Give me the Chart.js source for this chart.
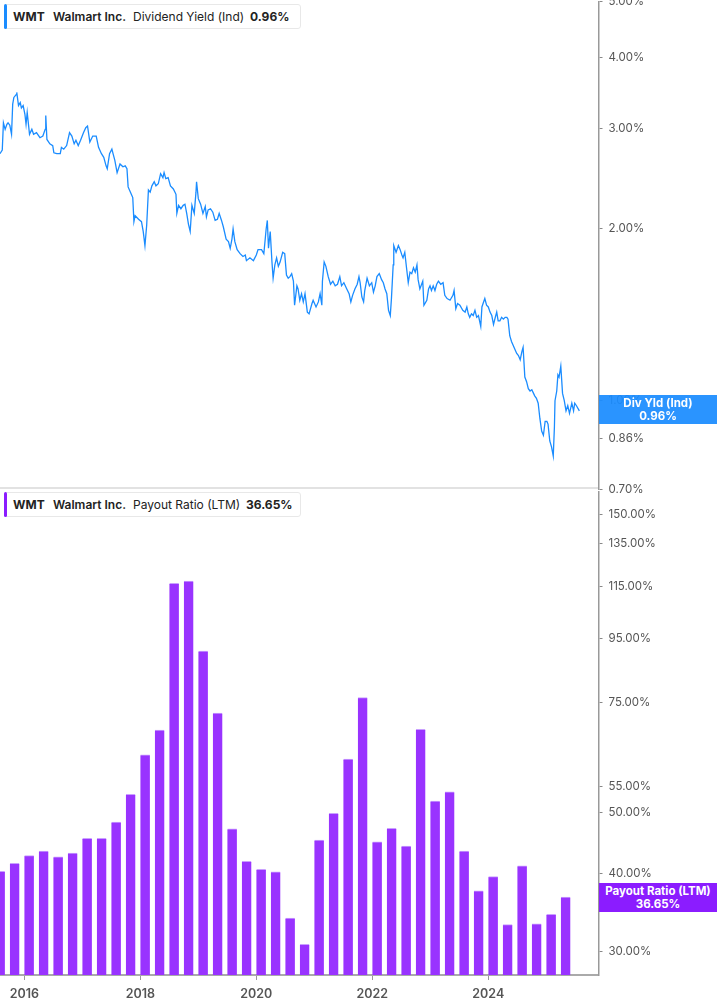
<!DOCTYPE html>
<html>
<head>
<meta charset="utf-8">
<script src="https://cdn.jsdelivr.net/npm/chart.js@4.4.1/dist/chart.umd.min.js"></script>
<style>
  body { margin: 0; width: 717px; height: 1005px; position: relative; overflow: hidden; background: #fff; font-family: Inter, "Noto Sans", sans-serif; }
  .wrap { position: absolute; left: 0; width: 717px; }
  #topWrap { top: -11px; height: 513px; }
  #botWrap { top: 479px; height: 526px; }
  .sep { position: absolute; left: 0; top: 487px; width: 598px; height: 2px; background: #e2e2e2; }
  .legend { position: absolute; left: 4px; width: 297px; height: 25px; background: #fff; border: 1px solid #e8e8e8; border-radius: 3px; box-sizing: border-box; z-index: 5; }
  .legend .bar { position: absolute; left: -1px; top: -1px; width: 3px; height: 25px; border-radius: 2px; }
  .legend span { position: absolute; top: 4px; font-size: 12px; line-height: 16px; color: #222; white-space: nowrap; }
  .valbox { position: absolute; left: 599px; width: 118px; height: 29px; color: #fff; font-weight: 700; font-size: 11.5px; line-height: 13px; text-align: center; z-index: 5; padding-top: 2px; box-sizing: border-box; }
</style>
</head>
<body>
<div class="wrap" id="topWrap"><canvas id="yieldChart"></canvas></div>
<div class="wrap" id="botWrap"><canvas id="payoutChart"></canvas></div>
<div class="sep"></div>

<div class="legend" style="top:4px">
  <div class="bar" style="background:#1a8cff"></div>
  <span style="left:8px;font-weight:700">WMT</span>
  <span style="left:48px;font-weight:600">Walmart Inc.</span>
  <span style="left:128px">Dividend Yield (Ind)</span>
  <span style="left:245px;font-weight:700">0.96%</span>
</div>
<div class="legend" style="top:492px">
  <div class="bar" style="background:#8b1cff"></div>
  <span style="left:8px;font-weight:700">WMT</span>
  <span style="left:48px;font-weight:600">Walmart Inc.</span>
  <span style="left:128px">Payout Ratio (LTM)</span>
  <span style="left:241px;font-weight:700">36.65%</span>
</div>

<div class="valbox" style="top:395px;background:rgba(26,140,255,0.93)">Div Yld (Ind)<br>0.96%</div>
<div class="valbox" style="top:883px;background:#8b1cff">Payout Ratio (LTM)<br>36.65%</div>

<script>
// dividend yield (%), dates as decimal years
const yieldDates = [
  2015.58, 2015.62, 2015.64, 2015.67, 2015.70, 2015.72, 2015.75, 2015.78, 2015.80, 2015.82,
  2015.86, 2015.87, 2015.90, 2015.93, 2015.95, 2015.98, 2016.01, 2016.03, 2016.05, 2016.09,
  2016.13, 2016.16, 2016.21, 2016.27, 2016.32, 2016.36, 2016.37, 2016.39, 2016.44, 2016.49,
  2016.51, 2016.56, 2016.62, 2016.64, 2016.68, 2016.73, 2016.78, 2016.82, 2016.86, 2016.89,
  2016.93, 2016.97, 2017.02, 2017.06, 2017.09, 2017.13, 2017.18, 2017.24, 2017.28, 2017.33,
  2017.37, 2017.41, 2017.43, 2017.47, 2017.51, 2017.53, 2017.56, 2017.60, 2017.65, 2017.70,
  2017.74, 2017.77, 2017.79, 2017.83, 2017.87, 2017.89, 2017.91, 2017.97, 2018.02, 2018.05,
  2018.08, 2018.11, 2018.14, 2018.17, 2018.20, 2018.24, 2018.27, 2018.31, 2018.35, 2018.39,
  2018.41, 2018.44, 2018.48, 2018.52, 2018.57, 2018.615, 2018.63, 2018.66, 2018.70, 2018.74,
  2018.77, 2018.80, 2018.83, 2018.86, 2018.89, 2018.93, 2018.96, 2018.97, 2019.00, 2019.04,
  2019.08, 2019.12, 2019.14, 2019.17, 2019.21, 2019.25, 2019.29, 2019.33, 2019.36, 2019.40,
  2019.43, 2019.48, 2019.52, 2019.55, 2019.58, 2019.60, 2019.63, 2019.67, 2019.72, 2019.77,
  2019.81, 2019.83, 2019.89, 2019.95, 2020.00, 2020.03, 2020.09, 2020.13, 2020.17, 2020.19,
  2020.21, 2020.24, 2020.27, 2020.29, 2020.32, 2020.35, 2020.38, 2020.41, 2020.455, 2020.49,
  2020.52, 2020.55, 2020.58, 2020.61, 2020.64, 2020.66, 2020.70, 2020.72, 2020.75, 2020.78,
  2020.81, 2020.84, 2020.88, 2020.91, 2020.96, 2020.98, 2021.03, 2021.07, 2021.10, 2021.13,
  2021.14, 2021.17, 2021.20, 2021.24, 2021.28, 2021.32, 2021.36, 2021.40, 2021.44, 2021.47,
  2021.51, 2021.56, 2021.60, 2021.63, 2021.66, 2021.70, 2021.74, 2021.77, 2021.79, 2021.82,
  2021.85, 2021.87, 2021.91, 2021.95, 2021.99, 2022.02, 2022.05, 2022.08, 2022.12, 2022.16,
  2022.19, 2022.22, 2022.25, 2022.28, 2022.31, 2022.33, 2022.36, 2022.37, 2022.41, 2022.45,
  2022.48, 2022.51, 2022.53, 2022.56, 2022.59, 2022.62, 2022.65, 2022.68, 2022.71, 2022.74,
  2022.77, 2022.79, 2022.82, 2022.87, 2022.89, 2022.94, 2022.97, 2022.995, 2023.02, 2023.05,
  2023.08, 2023.11, 2023.14, 2023.18, 2023.22, 2023.25, 2023.29, 2023.34, 2023.39, 2023.41,
  2023.44, 2023.47, 2023.51, 2023.56, 2023.60, 2023.63, 2023.655, 2023.68, 2023.71, 2023.74,
  2023.77, 2023.80, 2023.83, 2023.87, 2023.89, 2023.91, 2023.94, 2023.97, 2024.00, 2024.03,
  2024.06, 2024.09, 2024.12, 2024.145, 2024.17, 2024.20, 2024.23, 2024.26, 2024.29, 2024.32,
  2024.34, 2024.37, 2024.40, 2024.43, 2024.46, 2024.49, 2024.52, 2024.55, 2024.58, 2024.60,
  2024.63, 2024.66, 2024.69, 2024.72, 2024.75, 2024.78, 2024.80, 2024.83, 2024.86, 2024.89,
  2024.92, 2024.95, 2024.98, 2025.01, 2025.03, 2025.06, 2025.09, 2025.12, 2025.14, 2025.15,
  2025.18, 2025.20, 2025.22, 2025.25, 2025.28, 2025.31, 2025.34, 2025.37, 2025.40, 2025.44,
  2025.47, 2025.49, 2025.52, 2025.57
];
const yieldValues = [
  2.71, 2.75, 3.07, 2.99, 3.05, 3.07, 3.04, 2.93, 3.31, 3.40,
  3.44, 3.47, 3.29, 3.33, 3.26, 3.29, 3.18, 3.05, 3.20, 2.93,
  2.99, 2.93, 2.95, 2.89, 2.91, 2.99, 3.16, 2.87, 2.82, 2.80,
  2.72, 2.71, 2.71, 2.78, 2.76, 2.80, 2.95, 2.91, 2.82, 2.86,
  2.80, 2.86, 2.95, 3.01, 3.03, 2.84, 2.91, 2.91, 2.78, 2.71,
  2.67, 2.58, 2.55, 2.71, 2.76, 2.71, 2.64, 2.51, 2.60, 2.57,
  2.58, 2.55, 2.37, 2.32, 2.27, 2.06, 2.11, 2.08, 2.06, 1.98,
  1.87, 2.03, 2.34, 2.32, 2.38, 2.42, 2.38, 2.40, 2.50, 2.46,
  2.51, 2.45, 2.46, 2.38, 2.35, 2.30, 2.13, 2.20, 2.17, 2.20,
  2.21, 2.13, 2.04, 1.98, 2.20, 2.13, 2.32, 2.42, 2.26, 2.21,
  2.13, 2.19, 2.10, 2.16, 2.17, 2.14, 2.07, 2.08, 2.13, 2.07,
  2.02, 1.92, 1.90, 1.85, 1.92, 2.00, 1.90, 1.84, 1.81, 1.79,
  1.80, 1.76, 1.78, 1.76, 1.80, 1.84, 1.84, 1.81, 2.00, 2.07,
  1.85, 1.98, 1.75, 1.64, 1.73, 1.78, 1.72, 1.75, 1.82, 1.81,
  1.66, 1.64, 1.65, 1.67, 1.62, 1.47, 1.59, 1.57, 1.50, 1.54,
  1.49, 1.54, 1.43, 1.42, 1.48, 1.50, 1.46, 1.49, 1.54, 1.47,
  1.62, 1.75, 1.72, 1.65, 1.60, 1.62, 1.59, 1.60, 1.65, 1.59,
  1.61, 1.57, 1.54, 1.49, 1.53, 1.57, 1.60, 1.65, 1.61, 1.52,
  1.49, 1.56, 1.64, 1.59, 1.61, 1.55, 1.59, 1.65, 1.67, 1.63,
  1.61, 1.57, 1.54, 1.44, 1.41, 1.51, 1.73, 1.87, 1.82, 1.87,
  1.84, 1.80, 1.78, 1.82, 1.71, 1.61, 1.68, 1.67, 1.71, 1.68,
  1.73, 1.63, 1.57, 1.62, 1.47, 1.50, 1.57, 1.59, 1.56, 1.59,
  1.56, 1.60, 1.62, 1.60, 1.61, 1.53, 1.51, 1.50, 1.53, 1.56,
  1.45, 1.48, 1.47, 1.44, 1.43, 1.46, 1.42, 1.40, 1.42, 1.41,
  1.44, 1.40, 1.41, 1.35, 1.46, 1.48, 1.51, 1.47, 1.46, 1.43,
  1.41, 1.36, 1.40, 1.43, 1.38, 1.38, 1.40, 1.39, 1.40, 1.40,
  1.39, 1.30, 1.27, 1.25, 1.23, 1.21, 1.20, 1.18, 1.22, 1.24,
  1.10, 1.08, 1.05, 1.04, 1.045, 1.03, 1.02, 1.01, 0.99, 0.93,
  0.885, 0.87, 0.92, 0.92, 0.91, 0.85, 0.83, 0.80, 0.90, 1.00,
  1.04, 1.11, 1.10, 1.15, 1.03, 1.00, 0.96, 0.98, 0.95, 0.99,
  0.96, 0.99, 0.98, 0.96
];

// payout ratio (LTM, %), fiscal quarter ends
const payoutQuarters = [
  '2015-07', '2015-10', '2016-01', '2016-04', '2016-07', '2016-10', '2017-01', '2017-04',
  '2017-07', '2017-10', '2018-01', '2018-04', '2018-07', '2018-10', '2019-01', '2019-04',
  '2019-07', '2019-10', '2020-01', '2020-04', '2020-07', '2020-10', '2021-01', '2021-04',
  '2021-07', '2021-10', '2022-01', '2022-04', '2022-07', '2022-10', '2023-01', '2023-04',
  '2023-07', '2023-10', '2024-01', '2024-04', '2024-07', '2024-10', '2025-01', '2025-04'
];
const payoutValues = [
  40.3, 41.5, 42.7, 43.4, 42.5, 43.1, 45.5, 45.5,
  48.3, 53.5, 61.9, 67.8, 116.4, 117.4, 90.7, 72.2,
  47.1, 41.8, 40.6, 40.2, 33.9, 30.8, 45.2, 49.9,
  60.9, 76.4, 44.9, 47.2, 44.2, 68.0, 52.2, 54.0,
  43.4, 37.5, 39.5, 33.1, 41.1, 33.2, 34.4, 36.65
];

const yieldTicks = [0.7, 0.86, 1, 2, 3, 4, 5];
const payoutTicks = [30, 40, 50, 55, 75, 95, 115, 135, 150];
const yearTicks = [2016, 2018, 2020, 2022, 2024];

const X_MIN = 2015.581;
const X_MAX = 2025.9;

Chart.defaults.font.family = 'Inter, "Noto Sans", sans-serif';
Chart.defaults.color = '#555';

function quarterToYear(q) {
  const parts = q.split('-');
  return Number(parts[0]) + Number(parts[1]) / 12;
}

function rightAxis(min, max, tickValues) {
  return {
    type: 'logarithmic',
    position: 'right',
    min: min,
    max: max,
    afterBuildTicks: (scale) => { scale.ticks = tickValues.map(v => ({ value: v })); },
    afterFit: (scale) => { scale.width = 118.5; },
    border: { display: true, color: '#999', width: 1.5 },
    grid: { drawOnChartArea: false, drawTicks: true, tickLength: 4, color: '#888' },
    ticks: {
      padding: 6,
      color: '#555',
      font: { size: 11.5 },
      autoSkip: false,
      callback: (v) => Number(v).toFixed(2) + '%'
    }
  };
}

const yieldPoints = yieldDates.map((d, i) => ({ x: d, y: yieldValues[i] }));

new Chart(document.getElementById('yieldChart'), {
  type: 'line',
  data: {
    datasets: [{
      data: yieldPoints,
      borderColor: '#1a8cff',
      borderWidth: 1.3,
      pointRadius: 0,
      tension: 0,
      fill: false
    }]
  },
  options: {
    responsive: true,
    maintainAspectRatio: false,
    animation: false,
    layout: { padding: 0 },
    plugins: { legend: { display: false }, tooltip: { enabled: false } },
    scales: {
      x: { type: 'linear', min: X_MIN, max: X_MAX, display: false },
      y: rightAxis(0.7, 5.0, yieldTicks)
    }
  }
});

const payoutPoints = payoutQuarters.map((q, i) => ({ x: quarterToYear(q), y: payoutValues[i] }));

new Chart(document.getElementById('payoutChart'), {
  type: 'bar',
  data: {
    datasets: [{
      data: payoutPoints,
      backgroundColor: '#9933ff',
      borderColor: '#c9a0ff',
      borderWidth: { top: 1, left: 0, right: 0, bottom: 0 },
      borderSkipped: 'bottom',
      barThickness: 9.5
    }]
  },
  options: {
    responsive: true,
    maintainAspectRatio: false,
    animation: false,
    layout: { padding: 0 },
    plugins: { legend: { display: false }, tooltip: { enabled: false } },
    scales: {
      x: {
        type: 'linear',
        min: X_MIN,
        max: X_MAX,
        offset: false,
        afterBuildTicks: (scale) => { scale.ticks = yearTicks.map(v => ({ value: v })); },
        afterFit: (scale) => { scale.height = 30; },
        border: { display: true, color: '#aaa', width: 2 },
        grid: { drawOnChartArea: false, offset: false, drawTicks: true, tickLength: 5, color: '#999' },
        ticks: {
          padding: 7,
          color: '#555',
          font: { size: 12.5, weight: '600' },
          autoSkip: false,
          maxRotation: 0,
          callback: (v) => String(v)
        }
      },
      y: rightAxis(27.5, 163, payoutTicks)
    }
  }
});
</script>
</body>
</html>
